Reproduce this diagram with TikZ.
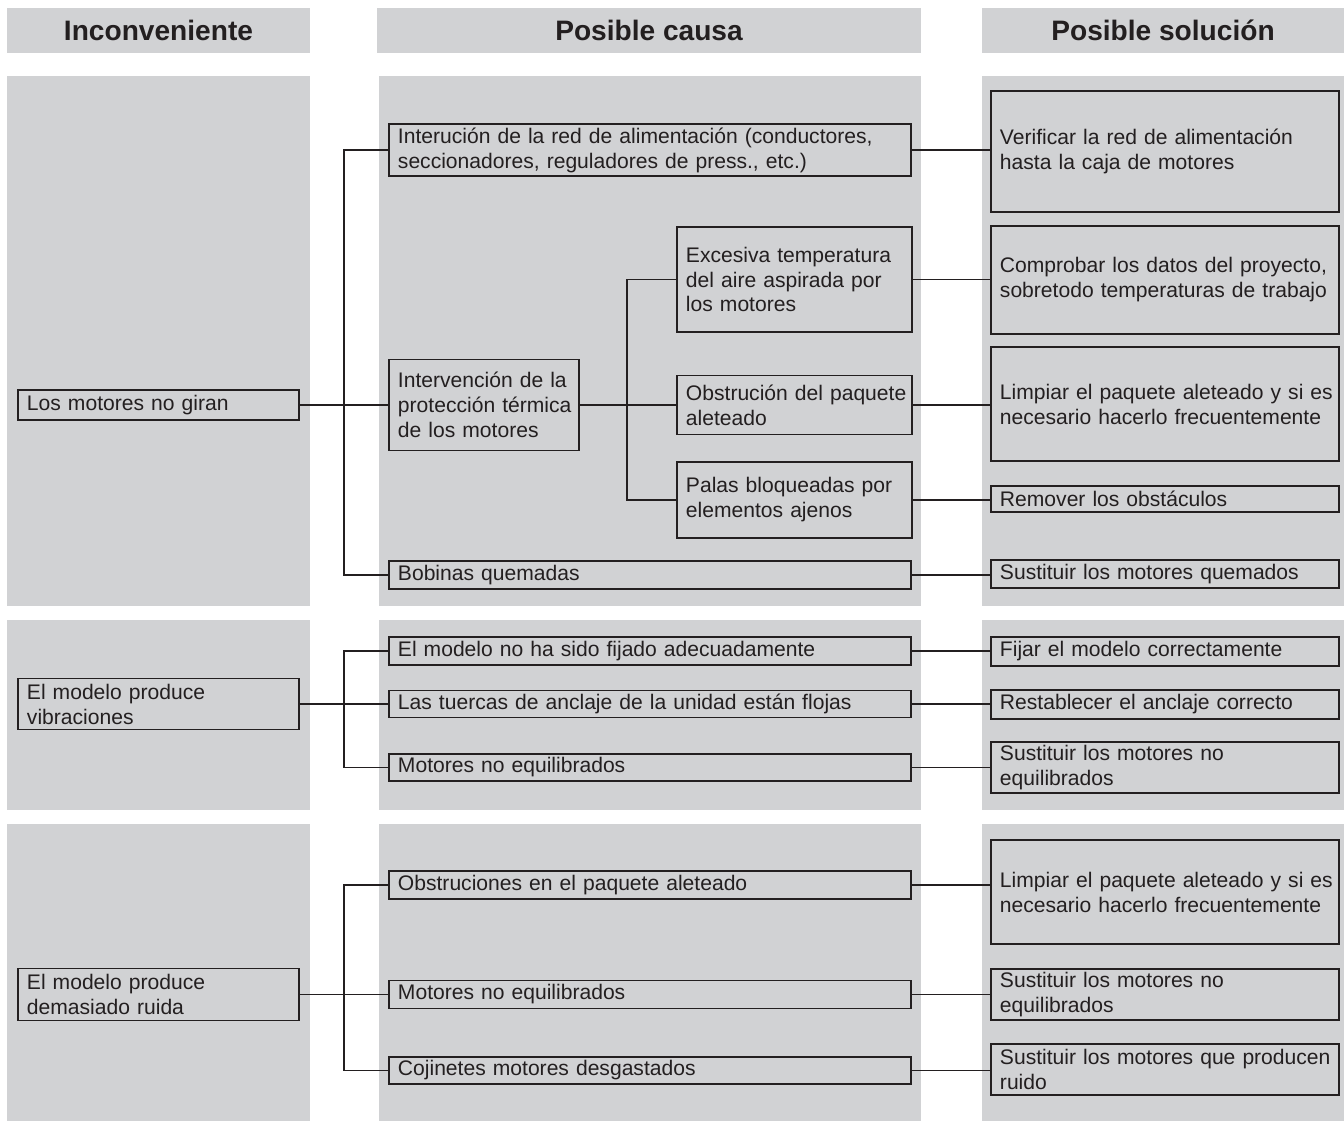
\documentclass[tikz,border=0pt]{standalone}
\usepackage{fontspec}
\setmainfont{Liberation Sans}
\usepackage{tikz}
\usetikzlibrary{positioning, calc}

\definecolor{gris}{RGB}{209,210,212}
\definecolor{tinta}{RGB}{35,31,32}

\tikzset{
    caja/.style={draw=tinta, line width=1.1pt, fill=gris, text=tinta,
        align=left, anchor=west, inner xsep=0.04cm, inner ysep=1pt,
        text width=#1-0.08cm,
        execute at begin node={\leftskip=0.14cm\hyphenpenalty=10000\exhyphenpenalty=10000},
        font=\fontsize{12}{14.2}\selectfont},
    incon/.style={caja=5.62cm},
    causa/.style={caja=10.44cm},
    causachica/.style={caja=3.8cm},
    subcausa/.style={caja=4.7cm},
    solucion/.style={caja=6.96cm},
    cabecera/.style={fill=gris, text=tinta, minimum height=0.9cm,
        font=\fontsize{16}{19}\selectfont\bfseries},
    enlace/.style={draw=tinta, line width=1.1pt},
}

\begin{document}
\begin{tikzpicture}[x=0.02cm, y=-0.02cm]
    \useasboundingbox (0,0) rectangle (1344,1121);

    % column headers
    \node[cabecera, minimum width=6.06cm]  (h1) at (158.5,30.5) {Inconveniente};
    \node[cabecera, minimum width=10.88cm] (h2) at (649,30.5)   {Posible causa};
    \node[cabecera, minimum width=7.24cm]  (h3) at (1163,30.5)  {Posible solución};

    % grey panels, one row per problem
    \foreach \ya/\yb in {76/606, 620/810, 824/1121} {
        \fill[gris] (7,\ya)   rectangle (310,\yb);
        \fill[gris] (379,\ya) rectangle (921,\yb);
        \fill[gris] (982,\ya) rectangle (1344,\yb);
    }

    % ; first problem ;
    \node[incon, minimum height=0.6cm] (i1) at (17,405) {Los motores no giran};

    \node[causa, minimum height=1.04cm] (c11) at (388,150)
        {Interución de la red de alimentación (conductores,\\seccionadores, reguladores de press., etc.)};
    \node[causachica, minimum height=1.82cm] (c12) at (388,405)
        {Intervención de la\\protección térmica\\de los motores};
    \node[causa, minimum height=0.56cm] (c13) at (388,575) {Bobinas quemadas};

    \node[subcausa, minimum height=2.1cm]  (s1) at (676,279.5)
        {Excesiva temperatura\\del aire aspirada por\\los motores};
    \node[subcausa, minimum height=1.18cm] (s2) at (676,405)
        {Obstrución del paquete\\aleteado};
    \node[subcausa, minimum height=1.52cm] (s3) at (676,500)
        {Palas bloqueadas por\\elementos ajenos};

    \node[solucion, minimum height=2.42cm] (r11) at (990,151.5)
        {Verificar la red de alimentación\\hasta la caja de motores};
    \node[solucion, minimum height=2.16cm] (r12) at (990,280)
        {Comprobar los datos del proyecto,\\sobretodo temperaturas de trabajo};
    \node[solucion, minimum height=2.28cm] (r13) at (990,404)
        {Limpiar el paquete aleteado y si es\\necesario hacerlo frecuentemente};
    \node[solucion, minimum height=0.52cm] (r14) at (990,499) {Remover los obstáculos};
    \node[solucion, minimum height=0.56cm] (r15) at (990,574) {Sustituir los motores quemados};

    \draw[enlace] (i1.east) -- (c12.west);
    \draw[enlace] (c11.west) -- ++(-44,0) |- (c13.west);
    \draw[enlace] (c12.east) -- (s2.west);
    \draw[enlace] (s1.west) -- ++(-49,0) |- (s3.west);
    \draw[enlace] (c11.east) -- (c11.east -| r11.west);
    \draw[enlace] (s1.east)  -- (s1.east -| r12.west);
    \draw[enlace] (s2.east)  -- (s2.east -| r13.west);
    \draw[enlace] (s3.east)  -- (s3.east -| r14.west);
    \draw[enlace] (c13.east) -- (c13.east -| r15.west);

    % ; second problem ;
    \node[incon, minimum height=1.02cm] (i2) at (17,704) {El modelo produce\\vibraciones};

    \node[causa, minimum height=0.56cm] (c21) at (388,651) {El modelo no ha sido fijado adecuadamente};
    \node[causa, minimum height=0.54cm] (c22) at (388,704) {Las tuercas de anclaje de la unidad están flojas};
    \node[causa, minimum height=0.54cm] (c23) at (388,767.5) {Motores no equilibrados};

    \node[solucion, minimum height=0.58cm] (r21) at (990,651.5) {Fijar el modelo correctamente};
    \node[solucion, minimum height=0.58cm] (r22) at (990,704.5) {Restablecer el anclaje correcto};
    \node[solucion, minimum height=1.02cm] (r23) at (990,767.5) {Sustituir los motores no\\equilibrados};

    \draw[enlace] (i2.east) -- (c22.west);
    \draw[enlace] (c21.west) -- ++(-44,0) |- (c23.west);
    \draw[enlace] (c21.east) -- (c21.east -| r21.west);
    \draw[enlace] (c22.east) -- (c22.east -| r22.west);
    \draw[enlace] (c23.east) -- (c23.east -| r23.west);

    % ; third problem ;
    \node[incon, minimum height=1.04cm] (i3) at (17,994.5) {El modelo produce\\demasiado ruida};

    \node[causa, minimum height=0.56cm] (c31) at (388,885) {Obstruciones en el paquete aleteado};
    \node[causa, minimum height=0.56cm] (c32) at (388,994.5) {Motores no equilibrados};
    \node[causa, minimum height=0.54cm] (c33) at (388,1070.5) {Cojinetes motores desgastados};

    \node[solucion, minimum height=2.08cm] (r31) at (990,892)
        {Limpiar el paquete aleteado y si es\\necesario hacerlo frecuentemente};
    \node[solucion, minimum height=1.02cm] (r32) at (990,994.5) {Sustituir los motores no\\equilibrados};
    \node[solucion, minimum height=1.02cm] (r33) at (990,1069.5) {Sustituir los motores que producen\\ruido};

    \draw[enlace] (i3.east) -- (c32.west);
    \draw[enlace] (c31.west) -- ++(-44,0) |- (c33.west);
    \draw[enlace] (c31.east) -- (c31.east -| r31.west);
    \draw[enlace] (c32.east) -- (c32.east -| r32.west);
    \draw[enlace] (c33.east) -- (c33.east -| r33.west);
\end{tikzpicture}
\end{document}
